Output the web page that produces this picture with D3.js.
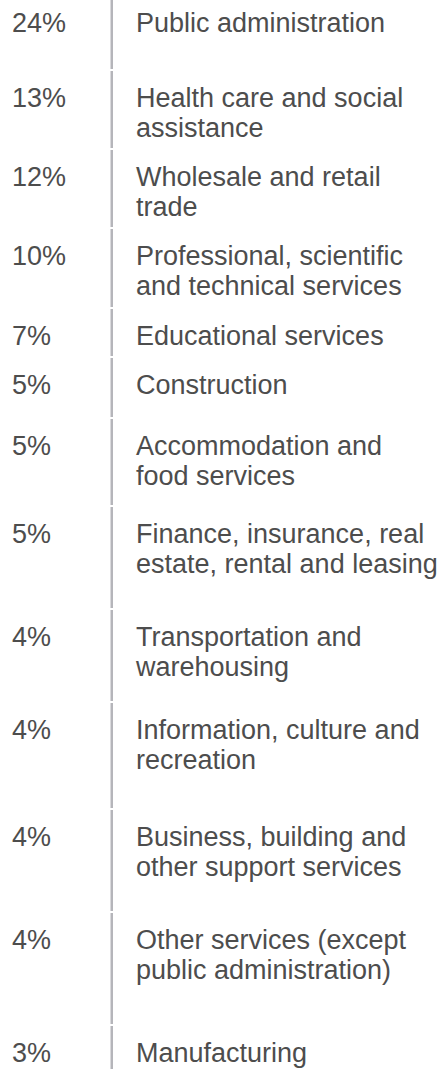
<!DOCTYPE html>
<html>
<head>
<meta charset="utf-8">
<script src="https://cdn.jsdelivr.net/npm/d3@7"></script>
<style>
  html, body { margin: 0; padding: 0; background: #ffffff; }
  svg { display: block; }
  text { font-family: "Liberation Sans", Arial, Helvetica, sans-serif; }
</style>
</head>
<body>
<div id="chart"></div>
<script>
// ---- Data ----
const categories = [
  "Public administration",
  "Health care and social\nassistance",
  "Wholesale and retail\ntrade",
  "Professional, scientific\nand technical services",
  "Educational services",
  "Construction",
  "Accommodation and\nfood services",
  "Finance, insurance, real\nestate, rental and leasing",
  "Transportation and\nwarehousing",
  "Information, culture and\nrecreation",
  "Business, building and\nother support services",
  "Other services (except\npublic administration)",
  "Manufacturing"
];
const shares = [24, 13, 12, 10, 7, 5, 5, 5, 4, 4, 4, 4, 3];

// ---- Layout (not data) ----
const width = 443, height = 1069;
const startY = -5;
const rowHeights = [75, 79, 79, 80, 49, 61, 88, 103, 93, 107, 103, 113, 60];
const rowTops = rowHeights.map((h, i) => startY + d3.sum(rowHeights.slice(0, i)));

const y = d3.scaleOrdinal().domain(categories).range(rowTops);
const h = d3.scaleOrdinal().domain(categories).range(rowHeights);
const fmt = d => d3.format("d")(d) + "%";

const svg = d3.select("#chart").append("svg")
  .attr("width", width).attr("height", height);

const rows = svg.selectAll("g.row")
  .data(categories.map((c, i) => ({ cat: c, value: shares[i] })))
  .join("g")
  .attr("class", "row")
  .attr("transform", d => `translate(0,${y(d.cat)})`);

// divider segment
rows.append("line")
  .attr("x1", 111.75).attr("x2", 111.75)
  .attr("y1", 1)
  .attr("y2", d => h(d.cat) - 1)
  .attr("stroke", "#b5b5ba")
  .attr("stroke-width", 2.5);

// value
rows.append("text")
  .attr("x", 12)
  .attr("y", 37)
  .attr("font-size", 27)
  .attr("fill", "#4d4d4d")
  .text(d => fmt(d.value));

// category label
rows.append("text")
  .attr("x", 136)
  .attr("y", 37)
  .attr("font-size", 27)
  .attr("fill", "#4d4d4d")
  .selectAll("tspan")
  .data(d => d.cat.split("\n"))
  .join("tspan")
  .attr("x", 136)
  .attr("dy", (d, i) => i === 0 ? 0 : 30)
  .text(d => d);
</script>
</body>
</html>
